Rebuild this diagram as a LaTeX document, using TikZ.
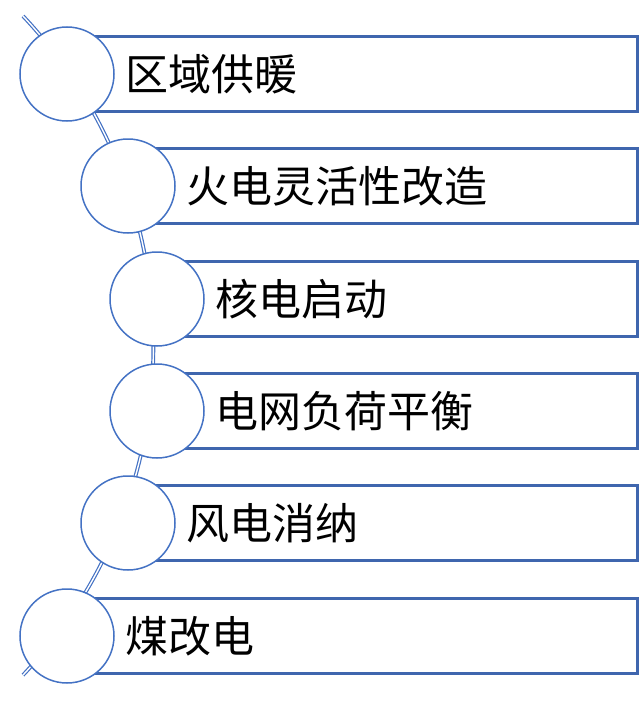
\documentclass[tikz,border=0pt]{standalone}
\usepackage{fontspec}
\newfontfamily\cjk{Noto Sans CJK SC}
\usetikzlibrary{positioning}
\definecolor{linkblue}{HTML}{4472C4}
\definecolor{barblue}{HTML}{3F66AE}

\tikzset{
  dot/.style={circle, draw=linkblue, line width=1.5pt, fill=white, minimum size=94pt, inner sep=0pt},
  bar/.style={rectangle, draw=barblue, line width=2.8pt, fill=white, minimum height=75pt, inner sep=0pt, anchor=west},
  itemtext/.style={font=\cjk\fontsize{43}{50}\selectfont, inner sep=0pt, anchor=west}
}

\begin{document}
\begin{tikzpicture}[x=1pt,y=-1pt]
            \useasboundingbox (0,0) rectangle (640,712);

            % Curve
            \draw[linkblue, line width=1.2pt, double=white, double distance=1.4pt] (23,16) arc (-43.18:43.18:481.6);

            % Items
            \foreach \x/\y/\txt [count=\i] in {67/74/区域供暖, 128/186/火电灵活性改造, 157/299/核电启动, 157/411/电网负荷平衡, 128/523/风电消纳, 67/636/煤改电}
            {
                \node[bar, minimum width={(636-\x)*1pt}] (bar\i) at (\x,\y) {};
                \node[dot] (dot\i) at (\x,\y) {};
                \node[itemtext, right=11pt of dot\i] (txt\i) {\txt};
            }
\end{tikzpicture}
\end{document}
